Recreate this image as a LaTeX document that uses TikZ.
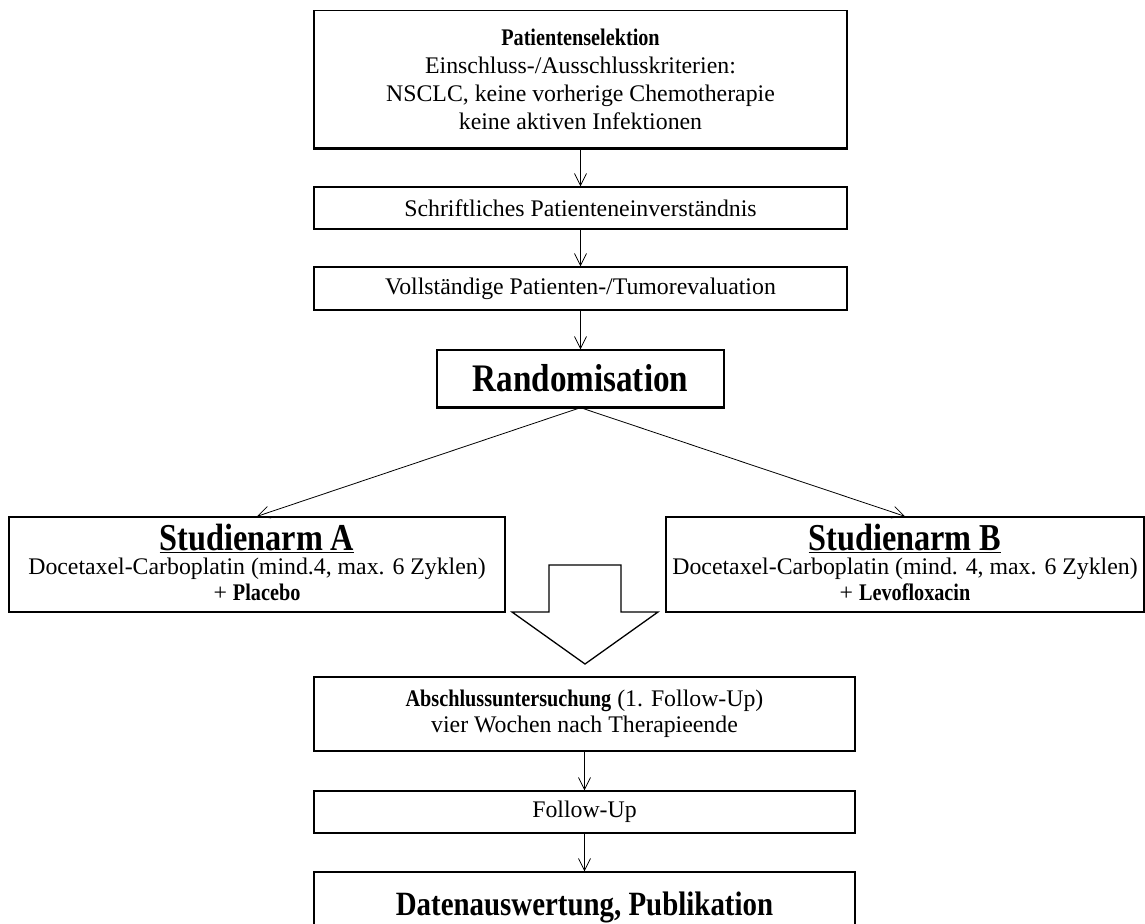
\documentclass[tikz,border=0pt]{standalone}
\usepackage{fontspec}
\setmainfont{Liberation Serif}
\newfontfamily\cbf[FakeStretch=0.85]{Liberation Serif}
\usetikzlibrary{arrows.meta}
\newcommand{\bt}[1]{{\cbf\bfseries #1}}
\begin{document}
\begin{tikzpicture}[x=1pt,y=-1pt,
  box/.style={draw, line width=1.3pt, align=center, inner sep=0pt,
    font=\fontsize{23.8}{25.5}\selectfont},
  arr/.style={-{Straight Barb[length=12pt,width=12pt]}, line width=0.8pt}]
\useasboundingbox (0,0) rectangle (1145,923);
\node[box, minimum width=533, minimum height=137, font=\fontsize{23.8}{28}\selectfont] (b1) at (580.5,79)
  {\bt{Patientenselektion}\\Einschluss-/Ausschlusskriterien:\\NSCLC, keine vorherige Chemotherapie\\keine aktiven Infektionen};
\node[box, minimum width=533, minimum height=42] (b2) at (580.5,208)
  {Schriftliches Patienteneinverständnis};
\node[box, minimum width=533, minimum height=43] (b3) at (580.5,288.5)
  {Vollständige Patienten-/Tumorevaluation};
\node[box, minimum width=287, minimum height=57] (rand) at (580.5,378.5)
  {\fontsize{39}{42}\selectfont\bt{Randomisation}};
\node[box, minimum width=496, minimum height=95] (armA) at (257,564.5)
  {\raisebox{0pt}[26pt][0pt]{\fontsize{38}{38}\selectfont\underline{\bt{Studienarm A}}}\\[-1pt]Docetaxel-Carboplatin (mind.4, max. 6 Zyklen)\\+ \bt{Placebo}\\[-21pt]\mbox{}};
\node[box, minimum width=478, minimum height=95] (armB) at (905,564.5)
  {\raisebox{0pt}[26pt][0pt]{\fontsize{38}{38}\selectfont\underline{\bt{Studienarm B}}}\\[-1pt]Docetaxel-Carboplatin (mind. 4, max. 6 Zyklen)\\+ \bt{Levofloxacin}\\[-21pt]\mbox{}};
\node[box, minimum width=541, minimum height=74] (absch) at (584.5,714)
  {\bt{Abschlussuntersuchung} (1. Follow-Up)\\vier Wochen nach Therapieende};
\node[box, minimum width=541, minimum height=76, text depth=0pt] (data) at (584.5,910)
  {\raisebox{13pt}{\fontsize{34}{38}\selectfont\bt{Datenauswertung, Publikation}}};
\node[box, minimum width=541, minimum height=42] (fu) at (584.5,812)
  {Follow-Up};
\draw[line width=3pt] (b1.south west) -- (b1.south east);
\draw[line width=2.5pt] (rand.south west) -- (rand.south east);
\draw[arr] (b1) -- (b2);
\draw[arr] (b2) -- (b3);
\draw[arr] (b3) -- (rand);
\draw[arr] (rand.south) -- (armA.north);
\draw[arr] (rand.south) -- (armB.north);
\draw[arr] (absch) -- (fu);
\draw[arr] (fu) -- (data);
\draw[line width=1.3pt] (549,565) -- (621,565) -- (621,612) -- (658,612)
  -- (585,664) -- (512,612) -- (549,612) -- cycle;
\end{tikzpicture}
\end{document}
